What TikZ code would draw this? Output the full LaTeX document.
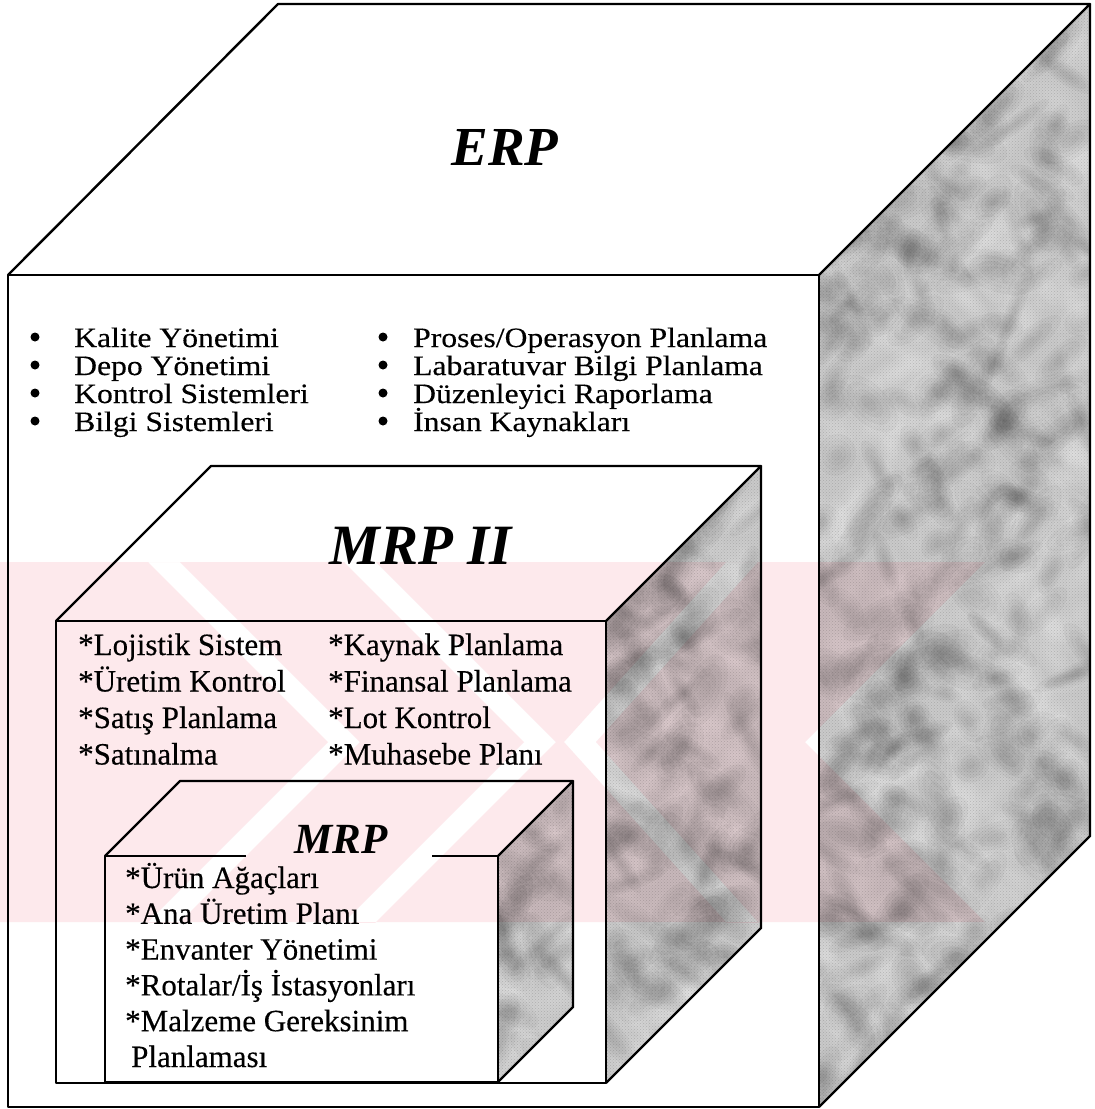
\documentclass[tikz,border=0pt]{standalone}
\usepackage{fontspec}
\setmainfont[FakeBold=0.3]{Liberation Serif}
\newfontfamily\wideserif[FakeStretch=1.13,FakeBold=0.3]{Liberation Serif}
\newfontfamily\titleserif{Liberation Serif}
\usetikzlibrary{patterns}
\definecolor{granbase}{gray}{0.79}
\definecolor{wmpink}{RGB}{253,233,236}

% mottled granite texture filling a box (x1,y1,x2,y2,number of blotches)
\newcommand\granitebox[5]{%
  \fill[granbase] (#1,#2) rectangle (#3,#4);
  \foreach \k in {1,...,#5}{%
    \pgfmathsetmacro\gx{#1+rnd*(#3-#1)}%
    \pgfmathsetmacro\gy{#2+rnd*(#4-#2)}%
    \pgfmathsetmacro\ga{18+rnd*34}%
    \pgfmathsetmacro\gb{8+rnd*12}%
    \pgfmathsetmacro\gr{45+90*int(2*rnd)+rnd*60-30}%
    \begin{scope}[rotate around={\gr:(\gx,\gy)}]
      \foreach \s in {1,0.75,0.5,0.28}{%
        \fill[black,opacity=0.03] (\gx,\gy) ellipse [x radius=\s*\ga pt,y radius=\s*\gb pt];
      }%
    \end{scope}
    \pgfmathsetmacro\hx{#1+rnd*(#3-#1)}%
    \pgfmathsetmacro\hy{#2+rnd*(#4-#2)}%
    \pgfmathsetmacro\hr{45+90*int(2*rnd)+rnd*60-30}%
    \begin{scope}[rotate around={\hr:(\hx,\hy)}]
      \foreach \s in {1,0.75,0.5,0.28}{%
        \fill[white,opacity=0.05] (\hx,\hy) ellipse [x radius=\s*\ga pt,y radius=\s*\gb pt];
      }%
    \end{scope}
  }%
  \fill[pattern=crosshatch dots,pattern color=black!70,opacity=0.25] (#1,#2) rectangle (#3,#4);
}

\begin{document}
\begin{tikzpicture}[x=1pt,y=-1pt,
  edge/.style={draw=black,line width=2.4pt,line join=round},
  erpitem/.style={anchor=base west,inner sep=0pt,font=\wideserif\fontsize{28}{28}\selectfont},
  bulletdot/.style={circle,fill=black,inner sep=0pt,minimum size=9pt},
  mrpitem/.style={anchor=base west,inner sep=0pt,font=\fontsize{31}{31}\selectfont},
  cubetitle/.style={anchor=base,inner sep=0pt}
]
\pgfmathsetseed{11}
\useasboundingbox (0,0) rectangle (1095,1109);
\fill[white] (0,0) rectangle (1095,1109);

% ---------------- ERP cube ----------------
\coordinate (eA) at (8,275);    % front top left
\coordinate (eB) at (819,275);  % front top right
\coordinate (eC) at (819,1107); % front bottom right
\coordinate (eD) at (8,1107);   % front bottom left
\coordinate (eE) at (278,4);    % back top left
\coordinate (eF) at (1090,4);   % back top right
\coordinate (eG) at (1090,836); % back bottom right
\begin{scope}
  \clip (eB) -- (eF) -- (eG) -- (eC) -- cycle;
  \granitebox{819}{4}{1090}{1107}{340}
\end{scope}
\draw[edge] (eA) -- (eB) -- (eC) -- (eD) -- cycle;
\draw[edge] (eA) -- (eE) -- (eF) -- (eB);
\draw[edge] (eF) -- (eG) -- (eC);

\node[cubetitle,font=\titleserif\bfseries\itshape\fontsize{55}{55}\selectfont] (erp) at (505,165) {ERP};

\foreach \t [count=\i] in {Kalite Yönetimi,Depo Yönetimi,Kontrol Sistemleri,Bilgi Sistemleri}{
  \node[bulletdot] (eb\i) at (35,{337+28*(\i-1)}) {};
  \node[erpitem] (el\i) at (74,{347+28*(\i-1)}) {\t};
}
\foreach \t [count=\i] in {Proses/Operasyon Planlama,Labaratuvar Bilgi Planlama,Düzenleyici Raporlama,İnsan Kaynakları}{
  \node[bulletdot] (ec\i) at (383,{337+28*(\i-1)}) {};
  \node[erpitem] (er\i) at (413,{347+28*(\i-1)}) {\t};
}

% ---------------- MRP II cube ----------------
\coordinate (mA) at (56,621);
\coordinate (mB) at (606,621);
\coordinate (mC) at (606,1083);
\coordinate (mD) at (56,1083);
\coordinate (mE) at (211,466);
\coordinate (mF) at (761,466);
\coordinate (mG) at (761,928);
\fill[white] (mA) -- (mE) -- (mF) -- (mB) -- (mC) -- (mD) -- cycle;
\begin{scope}
  \clip (mB) -- (mF) -- (mG) -- (mC) -- cycle;
  \granitebox{606}{466}{761}{1083}{110}
\end{scope}
\draw[edge] (mA) -- (mB) -- (mC) -- (mD) -- cycle;
\draw[edge] (mA) -- (mE) -- (mF) -- (mB);
\draw[edge] (mF) -- (mG) -- (mC);

\node[cubetitle,font=\titleserif\bfseries\itshape\fontsize{57}{57}\selectfont] (mrpii) at (421,564) {MRP II};

\foreach \t [count=\i] in {*Lojistik Sistem,*Üretim Kontrol,*Satış Planlama,*Satınalma}{
  \node[mrpitem] (ml\i) at (78,{655+36.5*(\i-1)}) {\t};
}
\foreach \t [count=\i] in {*Kaynak Planlama,*Finansal Planlama,*Lot Kontrol,*Muhasebe Planı}{
  \node[mrpitem] (mr\i) at (328,{655+36.5*(\i-1)}) {\t};
}

% ---------------- MRP cube ----------------
\coordinate (rA) at (105,856);
\coordinate (rB) at (498,856);
\coordinate (rC) at (498,1082);
\coordinate (rD) at (105,1082);
\coordinate (rE) at (180,781);
\coordinate (rF) at (573,781);
\coordinate (rG) at (573,1007);
\fill[white] (rA) -- (rE) -- (rF) -- (rB) -- (rC) -- (rD) -- cycle;
\begin{scope}
  \clip (rB) -- (rF) -- (rG) -- (rC) -- cycle;
  \granitebox{498}{781}{573}{1082}{30}
\end{scope}
\draw[edge] (rA) -- (rB) -- (rC) -- (rD) -- cycle;
\draw[edge] (rA) -- (rE) -- (rF) -- (rB);
\draw[edge] (rF) -- (rG) -- (rC);

% the title box interrupts the front top edge
\fill[white] (246,838) rectangle (432,864);
\node[cubetitle,font=\titleserif\bfseries\itshape\fontsize{43}{43}\selectfont] (mrp) at (341,853) {MRP};

\foreach \t [count=\i] in {*Ürün Ağaçları,*Ana Üretim Planı,*Envanter Yönetimi,*Rotalar/İş İstasyonları,*Malzeme Gereksinim}{
  \node[mrpitem] (rl\i) at (125,{888+35.8*(\i-1)}) {\t};
}
\node[mrpitem] (rl6) at (131,1067) {Planlaması};

% ---------------- faint chevron watermark, multiplied over everything ----------------
\begin{scope}
  \clip (0,562) rectangle (1095,922);
  \fill[wmpink,even odd rule,blend mode=multiply]
    % outer outline: straight left side, chevron-shaped right side
    (0,562) -- (985,562) -- (805,742) -- (985,922) -- (0,922) -- cycle
    % white chevron gaps pointing right
    (128,542) -- (160,542) -- (360,742) -- (160,942) -- (128,942) -- (328,742) -- cycle
    (324,542) -- (356,542) -- (556,742) -- (356,942) -- (324,942) -- (524,742) -- cycle
    % white chevron gap pointing left
    (744,542) -- (776,542) -- (596,742) -- (776,942) -- (744,942) -- (564,742) -- cycle;
\end{scope}

\end{tikzpicture}
\end{document}
